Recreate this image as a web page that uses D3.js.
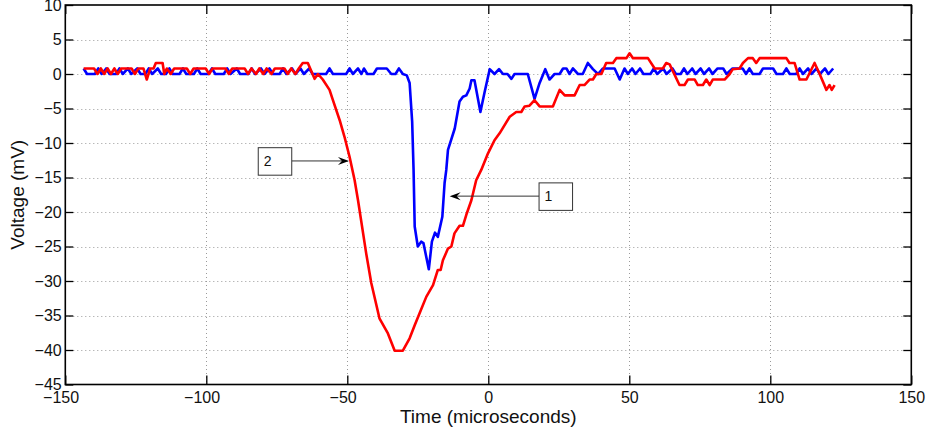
<!DOCTYPE html>
<html>
<head>
<meta charset="utf-8">
<script src="https://cdn.jsdelivr.net/npm/d3@7"></script>
<style>
  body { margin: 0; background: #fff; }
  svg { display: block; font-family: "Liberation Sans", Arial, sans-serif; }
</style>
</head>
<body>
<div id="container"></div>
<script>
/* CONSTANTS AND GLOBALS */
const width = 928;
const height = 432;
const plot = { left: 65.3, right: 911.3, top: 5, bottom: 384.5 };

const xTicks = [-150, -100, -50, 0, 50, 100, 150];
const yTicks = [-45, -40, -35, -30, -25, -20, -15, -10, -5, 0, 5, 10];

/* DATA: [time (us), voltage (mV)] */
const blueTrace = [
  [-143.5,0.8],[-142.3,0],[-139.5,0],[-138.3,0.8],[-137.1,0],[-135.5,0.8],[-134.3,0],[-132,0],
  [-130.8,0.8],[-129.6,0],[-127.8,0.8],[-126.6,0],[-124.5,0.8],[-123.3,0],[-121.6,0],[-120.4,0.8],
  [-119.2,0],[-117.2,0.8],[-116,0],[-114.3,0],[-113.1,0.8],[-111.9,0],[-109.5,0],[-108.3,0.8],
  [-107.1,0],[-104.4,0],[-103.2,0.8],[-102,0],[-99.2,0],[-98,0.8],[-96.8,0],[-93.8,0],
  [-92.6,0.8],[-91.4,0],[-89.2,0.8],[-88,0],[-85.1,0],[-83.9,0.8],[-82.7,0],[-80.6,0.8],
  [-79.4,0],[-77.6,0.8],[-76.4,0],[-74,0],[-72.8,0.8],[-71.6,0],[-69.6,0.8],[-68.4,0],
  [-66.6,0.8],[-65.4,0],[-63.5,0.8],[-62.3,0],[-57.5,0],[-56.3,0.8],[-55.1,0],[-50.4,0],
  [-49.2,0.8],[-48,0],[-46.2,0.8],[-45,0],[-44.1,0.8],[-42.9,0],[-40.7,0],[-39.5,0.8],
  [-36,0.8],[-34.4,0],[-32.9,0],[-31.7,0.8],[-30.3,0],[-28.9,-0.2],[-27.9,-1.3],[-27.0,-6.9],
  [-26.5,-13.9],[-26.1,-22.1],[-25.0,-25],[-23.8,-24.3],[-23.0,-24.5],[-21.1,-28.3],[-20.0,-24.3],
  [-18.9,-23],[-17.9,-23.6],[-16.3,-20.7],[-15.5,-15.8],[-14.9,-13.9],[-14.3,-11],[-11.9,-7.9],
  [-10.2,-4.0],[-9.0,-3.3],[-7.8,-3.1],[-6.6,-2.1],[-6.0,-0.9],[-4.9,-0.9],[-2.8,-5.5],[-1.3,-2.6],
  [0.5,0.7],[2.2,0],[3.8,0.7],[5.2,0],[6.8,0],[8.2,-0.7],[9.3,0],[14.0,0],[16.4,-3.6],[18.2,-1.3],
  [20.2,0.7],[21.7,-0.8],[23.5,0],[25.3,0],[26.5,0.8],[27.7,0.8],[28.8,0],[30.0,0.8],[31.8,0],
  [33.5,0],[35.3,1.6],[37.1,0.7],[38.9,0],[40.6,0.8],[44.8,0.8],[46.6,-0.8],[48.3,0.8],[49.5,0],
  [51,0.8],[52.2,0],[53.8,0.8],[55,0],[57.5,0],[58.7,0.8],[59.9,0],[62,0.8],[63.2,0],[65.3,0.8],
  [66.5,0],[68.2,0],[69.4,0.8],[70.6,0],[72.3,0.8],[73.5,0],[75.3,0.8],[76.5,0],[78.3,0.8],
  [79.5,0],[81.3,0.8],[83.3,0.8],[84.5,0],[86.6,0.8],[90.2,0.8],[91.4,0],[92.6,0.8],[93.8,0],
  [96.2,0],[97.4,0.8],[101,0.8],[102.2,0],[104.5,0],[105.7,0.8],[106.9,0],[109.2,0],[110.4,0.8],
  [111.6,0],[113.4,0.8],[114.6,0],[116.4,0.8],[117.6,0],[119.4,0.8],[120.6,0],[122.3,0.8]
];

const redTrace = [
  [-143.5,0.8],[-139.8,0.8],[-138.6,0],[-137.4,0.8],[-136.2,0],[-135,0.8],[-133.8,0],[-132.6,0.8],
  [-131.4,0],[-130.2,0.8],[-126.5,0.8],[-125.3,0],[-124.1,0.8],[-122.3,0.8],[-121.1,-0.8],
  [-119.9,0.8],[-118.7,0.8],[-117.9,1.6],[-115.5,1.6],[-114.9,0],[-114.0,0.8],[-112.6,0],
  [-111.4,0.8],[-106.9,0.8],[-105.7,0],[-104.5,0.8],[-100.2,0.8],[-99,0],[-97.8,0.8],[-93.2,0.8],
  [-92,0],[-90.8,0.8],[-86.4,0.8],[-85.2,0],[-84,0.8],[-82.4,0],[-81.2,0.8],[-79.8,0],[-78.6,0.8],
  [-76.9,0],[-75.7,0.8],[-72.3,0.8],[-71.1,0],[-69.9,0.8],[-68.4,0],[-67.2,0.8],[-65.8,1.6],
  [-64,1.6],[-61.6,-0.7],[-60.4,0],[-58.7,-0.8],[-56.3,-2.3],[-55.1,-3.8],[-52.7,-6.7],[-51.0,-9.1],
  [-49.2,-12],[-47.4,-15.4],[-46.2,-18.3],[-43.3,-26],[-41.5,-30.3],[-38.6,-35.4],[-35.6,-37.6],
  [-33.2,-40.1],[-30.3,-40.1],[-27.9,-38.3],[-26.1,-36.4],[-24.4,-34.7],[-22.0,-32.3],[-19.6,-30.6],
  [-17.9,-28.4],[-16.9,-28.4],[-16.1,-27],[-14.3,-25.3],[-13.1,-25],[-12.0,-23.1],[-10.2,-22],
  [-9.0,-22],[-7.8,-20.4],[-6.0,-18.3],[-4.3,-15.4],[-2.5,-13.9],[-0.1,-11.5],[2.2,-9.6],[4.0,-8.6],
  [7.6,-6.2],[9.9,-5.5],[11.7,-5.5],[12.9,-4.7],[14.6,-4.6],[16.4,-3.8],[18.2,-4.7],[22.9,-4.7],
  [25.3,-2.3],[27.1,-3.1],[30.6,-3.1],[32.4,-1.6],[34.1,-1.6],[35.9,-0.8],[37.1,-0.8],[38.3,0],
  [40.1,0],[41.8,1.6],[44.2,1.6],[45.4,2.3],[49.0,2.3],[50.1,3.0],[51.3,2.3],[56.6,2.3],[59.0,0.8],
  [61.9,0.8],[63.1,1.6],[64.3,1.4],[67.8,-1.6],[69.6,-1.6],[70.8,-0.8],[73.2,-0.8],[74.3,-1.6],
  [76.1,-1.6],[77.3,-0.8],[78.5,-1.6],[79.6,-0.8],[83.8,-0.8],[85.6,0],[86.7,0.7],[89.1,0.8],
  [90.3,1.6],[92.1,2.3],[93.8,2.3],[95.0,1.6],[96.2,2.3],[105.7,2.3],[106.8,1.6],[108.6,1.6],
  [110.4,-0.8],[112.8,-0.8],[115.7,1.6],[117.5,0],[119.9,-2.3],[121.0,-1.6],[121.8,-2.3],[122.8,-1.6]
];

// annotation: arrow tip and tail (box side) in data units
const annotations = [
  { label: "2", tip: [-49.4, -12.6], tail: [-69.7, -12.6], side: "left" },
  { label: "1", tip: [-13.7, -17.7], tail: [18.0, -17.7], side: "right" }
];

/* SCALES */
const xScale = d3.scaleLinear().domain([-150, 150]).range([plot.left, plot.right]);
const yScale = d3.scaleLinear().domain([-45, 10]).range([plot.bottom, plot.top]);

/* SVG */
const svg = d3.select("#container")
  .append("svg")
  .attr("width", width)
  .attr("height", height);

// grid
const grid = svg.append("g")
  .attr("stroke", "#9a9a9a")
  .attr("stroke-width", 1)
  .attr("stroke-dasharray", "1,3");

grid.selectAll(".gx")
  .data(xTicks.slice(1, -1))
  .join("line")
  .attr("x1", d => Math.round(xScale(d)) + 0.5)
  .attr("x2", d => Math.round(xScale(d)) + 0.5)
  .attr("y1", plot.top)
  .attr("y2", plot.bottom);

grid.selectAll(".gy")
  .data(yTicks.slice(1, -1))
  .join("line")
  .attr("y1", d => Math.round(yScale(d)) + 0.5)
  .attr("y2", d => Math.round(yScale(d)) + 0.5)
  .attr("x1", plot.left)
  .attr("x2", plot.right);

// lines
const line = d3.line()
  .x(d => xScale(d[0]))
  .y(d => yScale(d[1]));

svg.append("path")
  .datum(blueTrace)
  .attr("fill", "none")
  .attr("stroke", "#0000ff")
  .attr("stroke-width", 2.6)
  .attr("stroke-linejoin", "round")
  .attr("d", line);

svg.append("path")
  .datum(redTrace)
  .attr("fill", "none")
  .attr("stroke", "#ff0000")
  .attr("stroke-width", 2.6)
  .attr("stroke-linejoin", "round")
  .attr("d", line);

/* AXES */
const fmt = d3.format("");

const xAxis = d3.axisBottom(xScale).tickValues(xTicks).tickFormat(fmt)
  .tickSizeInner(-9).tickSizeOuter(0).tickPadding(7.5);
const yAxis = d3.axisLeft(yScale).tickValues(yTicks).tickFormat(fmt)
  .tickSizeInner(-8).tickSizeOuter(0).tickPadding(3.6);

const gx = svg.append("g")
  .attr("transform", `translate(0, ${plot.bottom})`)
  .call(xAxis);
gx.selectAll("text").attr("dx", d => d < 0 ? -4.7 : 0);

const gy = svg.append("g")
  .attr("transform", `translate(${plot.left}, 0)`)
  .call(yAxis);

svg.append("g")
  .attr("transform", `translate(0, ${plot.top})`)
  .call(d3.axisTop(xScale).tickValues(xTicks).tickFormat("").tickSizeInner(-9).tickSizeOuter(0));

svg.append("g")
  .attr("transform", `translate(${plot.right}, 0)`)
  .call(d3.axisRight(yScale).tickValues(yTicks).tickFormat("").tickSizeInner(-8).tickSizeOuter(0));

svg.selectAll(".domain").remove();
svg.selectAll(".tick line").attr("stroke", "#000").attr("stroke-width", 1.3);
svg.selectAll(".tick text")
  .attr("fill", "#111")
  .style("font-size", "16px")
  .style("font-family", "'Liberation Sans', Arial, sans-serif");

// axes box
svg.append("rect")
  .attr("x", plot.left)
  .attr("y", plot.top)
  .attr("width", plot.right - plot.left)
  .attr("height", plot.bottom - plot.top)
  .attr("fill", "none")
  .attr("stroke", "#000")
  .attr("stroke-width", 1.6);

// axis labels
svg.append("text")
  .attr("x", (plot.left + plot.right) / 2)
  .attr("y", 422.5)
  .attr("text-anchor", "middle")
  .style("font-size", "19px")
  .attr("fill", "#111")
  .text("Time (microseconds)");

svg.append("text")
  .attr("transform", `translate(24, ${(plot.top + plot.bottom) / 2}) rotate(-90)`)
  .attr("text-anchor", "middle")
  .style("font-size", "19px")
  .attr("fill", "#111")
  .text("Voltage (mV)");

/* ANNOTATIONS */
const boxW = 33.5, boxH = 27.5;
const ann = svg.append("g");

annotations.forEach(a => {
  const tx = xScale(a.tip[0]), ty = yScale(a.tip[1]);
  const sx = xScale(a.tail[0]), sy = yScale(a.tail[1]);
  const dir = Math.sign(tx - sx);

  ann.append("line")
    .attr("x1", sx).attr("y1", sy)
    .attr("x2", tx - dir * 6).attr("y2", ty)
    .attr("stroke", "#333")
    .attr("stroke-width", 1);

  ann.append("path")
    .attr("d", `M${tx},${ty} L${tx - dir * 11},${ty - 4} L${tx - dir * 7},${ty} L${tx - dir * 11},${ty + 4} Z`)
    .attr("fill", "#000");

  const bx = a.side === "left" ? sx - boxW : sx;
  ann.append("rect")
    .attr("x", bx).attr("y", sy - boxH / 2 + 0.5)
    .attr("width", boxW).attr("height", boxH)
    .attr("fill", "#fff")
    .attr("stroke", "#333")
    .attr("stroke-width", 1);

  ann.append("text")
    .attr("x", bx + 5.5)
    .attr("y", sy + 5)
    .style("font-size", "14px")
    .attr("fill", "#111")
    .text(a.label);
});
</script>
</body>
</html>
